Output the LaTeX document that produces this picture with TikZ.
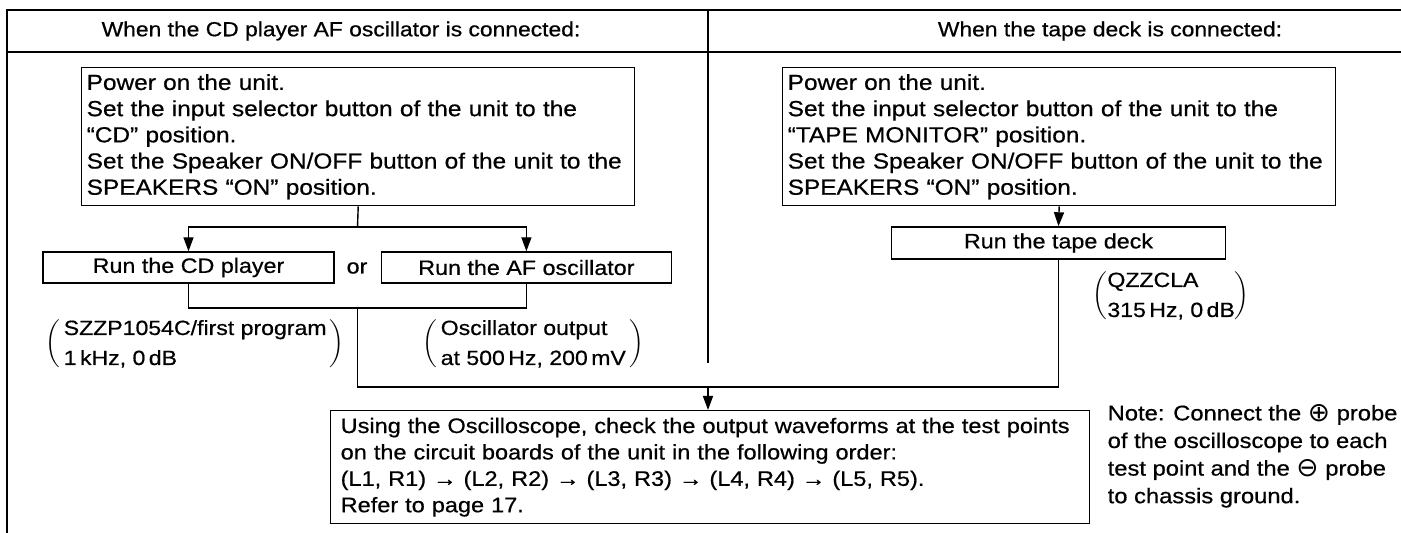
\documentclass[tikz,border=0pt]{standalone}
\usepackage{fontspec}
\setmainfont{Liberation Sans}[FakeStretch=1.12, FakeBold=0.6]
\newfontfamily\probesym{DejaVu Sans}
\newcommand{\probesign}[1]{\raisebox{-0.12ex}{\scalebox{1.25}{\probesym #1}}}
\usetikzlibrary{arrows.meta, positioning}
\tikzset{
  heading/.style={inner sep=0pt, font=\fontsize{10.2}{12}\selectfont},
  stepbox/.style={draw, anchor=north west, align=left, inner xsep=2.5pt, inner ysep=0pt,
    text width=271.5pt, minimum height=69pt, font=\fontsize{10.9}{13.1}\selectfont},
  runbox/.style={draw, inner sep=0pt, minimum height=15.5pt, font=\fontsize{10.4}{12}\selectfont},
  remark/.style={inner sep=0pt, align=left, font=\fontsize{10.3}{15}\selectfont},
  flow/.style={-{Triangle[length=7pt,width=5pt]}},
}

\begin{document}
\begin{tikzpicture}[x=0.5pt, y=-0.5pt, line width=0.7pt]
  \useasboundingbox (0,0) rectangle (1401,533);
  % frame and column headings
  \draw (7,533) -- (7,10) -- (1401,10);
  \draw (7,52) -- (1401,52);
  \draw (708,10) -- (708,363);
  \node[heading] (hdcd) at (341,31) {When the CD player AF oscillator is connected:};
  \node[heading] (hdtape) at (1110,31) {When the tape deck is connected:};

  % CD player / AF oscillator column
  \node[stepbox] (cdsetup) at (81,67) {Power on the unit.\\
    Set the input selector button of the unit to the\\
    “CD” position.\\
    Set the Speaker ON/OFF button of the unit to the\\
    SPEAKERS “ON” position.};
  \node[runbox, minimum width=145.5pt] (runcd) at (188.5,267.5) {Run the CD player};
  \node[runbox, minimum width=145pt, right=23pt of runcd] (runaf) {Run the AF oscillator};
  \node[inner sep=0pt, font=\fontsize{10.4}{12}\selectfont] (orword) at (357,268) {or};
  \node[remark, anchor=west] (cddisc) at (45,344)
    {$\biggl(\,\begin{tabular}{@{}l@{}}SZZP1054C/first program\\ 1\,kHz, 0\,dB\end{tabular}\,\biggr)$};
  \node[remark, anchor=west] (oscout) at (422,344)
    {$\biggl(\,\begin{tabular}{@{}l@{}}Oscillator output\\ at 500\,Hz, 200\,mV\end{tabular}\,\biggr)$};

  % tape deck column
  \node[stepbox] (tapesetup) at (782,67) {Power on the unit.\\
    Set the input selector button of the unit to the\\
    “TAPE MONITOR” position.\\
    Set the Speaker ON/OFF button of the unit to the\\
    SPEAKERS “ON” position.};
  \node[runbox, minimum width=167pt, minimum height=16pt] (runtape) at (1058.5,243) {Run the tape deck};
  \node[remark, anchor=west] (tapedisc) at (1092,296)
    {$\biggl(\begin{tabular}{@{}l@{}}QZZCLA\\ 315\,Hz, 0\,dB\end{tabular}\biggr)$};

  % oscilloscope check and note
  \node[stepbox, text width=369.5pt, inner xsep=5pt, minimum height=56.5pt,
    font=\fontsize{10.5}{13.2}\selectfont] (scope) at (330,410)
    {Using the Oscilloscope, check the output waveforms at the test points\\
    on the circuit boards of the unit in the following order:\\
    (L1, R1) → (L2, R2) → (L3, R3) → (L4, R4) → (L5, R5).\\
    Refer to page 17.};
  \node[remark, anchor=north west, font=\fontsize{10.6}{13.8}\selectfont] (note) at (1107,404)
    {Note: Connect the \probesign{⊕} probe\\
    of the oscilloscope to each\\
    test point and the \probesign{⊖} probe\\
    to chassis ground.};

  % connectors
  \coordinate (cdsplit) at (357.5,227);
  \coordinate (cdjoin) at (357.5,308);
  \coordinate (merge) at (708,387);
  \draw (cdsetup.south) -- (cdsplit);
  \draw[flow] (cdsplit) -| (runcd.north);
  \draw[flow] (cdsplit) -| (runaf.north);
  \draw (runcd.south) |- (cdjoin) -| (runaf.south);
  \draw (cdjoin) |- (merge) -| (runtape.south);
  \draw[flow] (tapesetup.south) -- (runtape.north);
  \draw[flow] (merge) -- (merge |- scope.north);
\end{tikzpicture}
\end{document}
